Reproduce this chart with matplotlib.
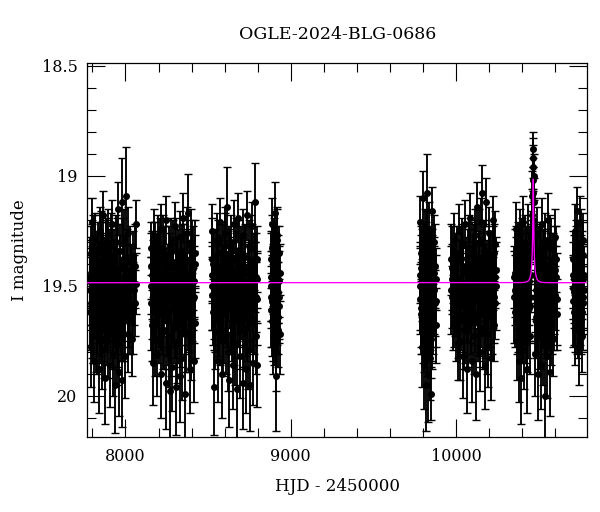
import numpy as np
import matplotlib
matplotlib.use("Agg")
import matplotlib.pyplot as plt
from matplotlib.ticker import MultipleLocator

# ---------------- data (HJD-2450000, I mag, error) ----------------
SEASON_1 = [
    (7783, 19.46, 0.13), (7786, 19.62, 0.15), (7790, 19.35, 0.12), (7794, 19.78, 0.18),
    (7797, 19.21, 0.11), (7801, 19.55, 0.14), (7805, 19.69, 0.16), (7808, 19.40, 0.13),
    (7812, 19.84, 0.19), (7816, 19.29, 0.12), (7820, 19.58, 0.15), (7824, 19.47, 0.13),
    (7828, 19.73, 0.17), (7832, 19.33, 0.12), (7836, 19.61, 0.15), (7840, 19.88, 0.20),
    (7844, 19.25, 0.11), (7848, 19.52, 0.14), (7852, 19.66, 0.16), (7856, 19.38, 0.12),
    (7860, 19.79, 0.18), (7864, 19.18, 0.11), (7868, 19.57, 0.14), (7872, 19.44, 0.13),
    (7876, 19.92, 0.21), (7880, 19.31, 0.12), (7884, 19.64, 0.16), (7888, 19.50, 0.14),
    (7892, 19.75, 0.17), (7896, 19.27, 0.12), (7900, 19.59, 0.15), (7904, 19.86, 0.19),
    (7908, 19.42, 0.13), (7912, 19.70, 0.16), (7916, 19.22, 0.11), (7920, 19.54, 0.14),
    (7924, 19.81, 0.19), (7928, 19.36, 0.12), (7932, 19.63, 0.15), (7936, 19.95, 0.22),
    (7940, 19.30, 0.12), (7944, 19.56, 0.14), (7948, 19.77, 0.18), (7952, 19.15, 0.12),
    (7957, 19.48, 0.13), (7962, 19.89, 0.20), (7967, 19.34, 0.12), (7972, 19.68, 0.16),
    (7977, 19.93, 0.21), (7982, 19.12, 0.20), (7987, 19.60, 0.15), (7992, 19.40, 0.13),
    (7997, 19.82, 0.19), (8003, 19.09, 0.22), (8008, 19.53, 0.14), (8013, 19.72, 0.17),
    (8018, 19.26, 0.12), (8025, 19.65, 0.16), (8032, 19.45, 0.13), (8040, 19.74, 0.17),
    (8048, 19.37, 0.12), (8055, 19.58, 0.15), (8061, 19.22, 0.11), (8062, 19.49, 0.14),
    (7785, 19.52, 0.16), (7792, 19.44, 0.15), (7799, 19.66, 0.17), (7806, 19.33, 0.15),
    (7814, 19.58, 0.16), (7822, 19.71, 0.18), (7830, 19.40, 0.15), (7838, 19.55, 0.16),
    (7846, 19.68, 0.17), (7854, 19.31, 0.15), (7862, 19.50, 0.16), (7870, 19.74, 0.18),
    (7878, 19.43, 0.15), (7886, 19.36, 0.15), (7894, 19.62, 0.17), (7902, 19.49, 0.16),
    (7910, 19.57, 0.16), (7918, 19.38, 0.15), (7926, 19.70, 0.18), (7934, 19.46, 0.16),
    (7942, 19.64, 0.17), (7950, 19.34, 0.15), (7959, 19.59, 0.16), (7969, 19.42, 0.15),
    (7979, 19.67, 0.17), (7989, 19.30, 0.15), (7999, 19.55, 0.16), (8010, 19.39, 0.15),
    (8022, 19.61, 0.17), (8036, 19.47, 0.16), (8051, 19.52, 0.16),
    (7784, 19.48, 0.20), (7789, 19.58, 0.21), (7796, 19.41, 0.19), (7803, 19.63, 0.22),
    (7810, 19.50, 0.20), (7818, 19.37, 0.19), (7826, 19.60, 0.21), (7834, 19.45, 0.20),
    (7842, 19.55, 0.21), (7850, 19.40, 0.19), (7858, 19.62, 0.22), (7866, 19.47, 0.20),
    (7874, 19.57, 0.21), (7882, 19.39, 0.19), (7890, 19.64, 0.22), (7898, 19.44, 0.20),
    (7906, 19.53, 0.21), (7914, 19.36, 0.19), (7922, 19.61, 0.22), (7930, 19.49, 0.20),
    (7938, 19.56, 0.21), (7946, 19.42, 0.20), (7955, 19.65, 0.22), (7964, 19.51, 0.20),
    (7974, 19.60, 0.21), (7984, 19.38, 0.19), (7994, 19.62, 0.22), (8005, 19.47, 0.20),
    (8016, 19.57, 0.21), (8029, 19.43, 0.20), (8044, 19.60, 0.21), (8058, 19.41, 0.19),
]
SEASON_2 = [
    (8153, 19.50, 0.13), (8157, 19.33, 0.12), (8161, 19.68, 0.16), (8164, 19.85, 0.19),
    (8168, 19.42, 0.13), (8172, 19.27, 0.12), (8176, 19.59, 0.15), (8180, 19.74, 0.17),
    (8184, 19.38, 0.12), (8188, 19.55, 0.14), (8193, 19.81, 0.19), (8198, 19.30, 0.12),
    (8203, 19.63, 0.15), (8208, 19.46, 0.13), (8213, 19.90, 0.20), (8218, 19.24, 0.11),
    (8223, 19.57, 0.14), (8228, 19.71, 0.17), (8233, 19.35, 0.12), (8238, 19.52, 0.14),
    (8243, 19.94, 0.21), (8248, 19.20, 0.11), (8253, 19.66, 0.16), (8258, 19.44, 0.13),
    (8263, 19.78, 0.18), (8268, 19.98, 0.22), (8273, 19.31, 0.12), (8278, 19.60, 0.15),
    (8283, 19.87, 0.20), (8288, 19.41, 0.13), (8293, 19.69, 0.16), (8298, 19.23, 0.11),
    (8303, 19.96, 0.22), (8308, 19.53, 0.14), (8313, 19.76, 0.18), (8318, 19.36, 0.12),
    (8323, 19.62, 0.15), (8328, 19.91, 0.21), (8333, 19.28, 0.12), (8338, 19.48, 0.13),
    (8343, 19.83, 0.19), (8348, 19.19, 0.11), (8353, 19.58, 0.15), (8358, 19.99, 0.22),
    (8363, 19.39, 0.13), (8368, 19.72, 0.17), (8373, 19.26, 0.12), (8378, 19.17, 0.18),
    (8383, 19.64, 0.16), (8388, 19.88, 0.20), (8393, 19.45, 0.13), (8398, 19.75, 0.18),
    (8403, 19.32, 0.12), (8408, 19.56, 0.14), (8413, 19.84, 0.19), (8418, 19.40, 0.13),
    (8422, 19.67, 0.16),
    (8155, 19.41, 0.15), (8163, 19.58, 0.16), (8170, 19.47, 0.16), (8178, 19.36, 0.15),
    (8186, 19.66, 0.17), (8195, 19.52, 0.16), (8205, 19.40, 0.15), (8215, 19.62, 0.17),
    (8225, 19.33, 0.15), (8235, 19.70, 0.18), (8245, 19.49, 0.16), (8255, 19.56, 0.16),
    (8265, 19.38, 0.15), (8275, 19.73, 0.18), (8285, 19.45, 0.16), (8295, 19.61, 0.17),
    (8305, 19.34, 0.15), (8315, 19.68, 0.17), (8325, 19.51, 0.16), (8335, 19.42, 0.15),
    (8345, 19.64, 0.17), (8355, 19.37, 0.15), (8365, 19.55, 0.16), (8375, 19.46, 0.16),
    (8385, 19.71, 0.18), (8395, 19.30, 0.15), (8405, 19.59, 0.16), (8415, 19.48, 0.16),
    (8420, 19.35, 0.15),
    (8154, 19.58, 0.21), (8159, 19.45, 0.20), (8166, 19.62, 0.22), (8174, 19.40, 0.19),
    (8182, 19.55, 0.21), (8190, 19.47, 0.20), (8200, 19.63, 0.22), (8210, 19.38, 0.19),
    (8220, 19.52, 0.20), (8230, 19.60, 0.21), (8240, 19.43, 0.20), (8250, 19.57, 0.21),
    (8260, 19.64, 0.22), (8270, 19.46, 0.20), (8280, 19.54, 0.21), (8290, 19.39, 0.19),
    (8300, 19.61, 0.22), (8310, 19.48, 0.20), (8320, 19.56, 0.21), (8330, 19.65, 0.22),
    (8340, 19.41, 0.19), (8350, 19.53, 0.20), (8360, 19.60, 0.21), (8370, 19.44, 0.20),
    (8380, 19.58, 0.21), (8390, 19.50, 0.20), (8400, 19.62, 0.22), (8410, 19.42, 0.19),
    (8417, 19.55, 0.21),
]
SEASON_3 = [
    (8521, 19.45, 0.13), (8524, 19.25, 0.12), (8528, 19.62, 0.15), (8534, 19.96, 0.22),
    (8538, 19.37, 0.12), (8543, 19.71, 0.17), (8548, 19.52, 0.14), (8553, 19.29, 0.12),
    (8558, 19.84, 0.19), (8563, 19.43, 0.13), (8568, 19.66, 0.16), (8573, 19.21, 0.11),
    (8578, 19.57, 0.14), (8583, 19.90, 0.20), (8588, 19.34, 0.12), (8593, 19.74, 0.17),
    (8598, 19.48, 0.13), (8603, 19.26, 0.12), (8608, 19.61, 0.15), (8614, 19.14, 0.18),
    (8619, 19.80, 0.18), (8624, 19.41, 0.13), (8629, 19.93, 0.21), (8634, 19.55, 0.14),
    (8639, 19.30, 0.12), (8644, 19.68, 0.16), (8649, 19.86, 0.20), (8654, 19.22, 0.11),
    (8659, 19.50, 0.14), (8664, 19.77, 0.18), (8669, 19.38, 0.12), (8674, 19.97, 0.22),
    (8679, 19.63, 0.15), (8684, 19.19, 0.11), (8689, 19.46, 0.13), (8694, 19.82, 0.19),
    (8699, 19.35, 0.12), (8704, 19.59, 0.15), (8709, 19.94, 0.21), (8714, 19.27, 0.12),
    (8719, 19.70, 0.17), (8724, 19.44, 0.13), (8729, 19.88, 0.20), (8734, 19.18, 0.11),
    (8739, 19.56, 0.14), (8744, 19.79, 0.18), (8749, 19.32, 0.12), (8754, 19.95, 0.21),
    (8759, 19.64, 0.16), (8764, 19.23, 0.11), (8769, 19.51, 0.14), (8774, 19.85, 0.19),
    (8779, 19.39, 0.13), (8785, 19.12, 0.18), (8790, 19.73, 0.17), (8795, 19.86, 0.19),
    (8799, 19.47, 0.13),
    (8523, 19.54, 0.16), (8531, 19.40, 0.15), (8541, 19.63, 0.17), (8551, 19.47, 0.16),
    (8561, 19.35, 0.15), (8571, 19.69, 0.17), (8581, 19.44, 0.16), (8591, 19.58, 0.16),
    (8601, 19.32, 0.15), (8611, 19.72, 0.18), (8621, 19.50, 0.16), (8631, 19.39, 0.15),
    (8641, 19.61, 0.17), (8651, 19.45, 0.16), (8661, 19.66, 0.17), (8671, 19.34, 0.15),
    (8681, 19.56, 0.16), (8691, 19.70, 0.18), (8701, 19.42, 0.15), (8711, 19.53, 0.16),
    (8721, 19.37, 0.15), (8731, 19.65, 0.17), (8741, 19.48, 0.16), (8751, 19.59, 0.16),
    (8761, 19.33, 0.15), (8771, 19.67, 0.17), (8781, 19.46, 0.16), (8792, 19.55, 0.16),
    (8797, 19.38, 0.15),
    (8522, 19.50, 0.20), (8526, 19.38, 0.19), (8536, 19.58, 0.21), (8546, 19.44, 0.20),
    (8556, 19.62, 0.22), (8566, 19.47, 0.20), (8576, 19.55, 0.21), (8586, 19.40, 0.19),
    (8596, 19.63, 0.22), (8606, 19.49, 0.20), (8616, 19.57, 0.21), (8626, 19.42, 0.19),
    (8636, 19.60, 0.21), (8646, 19.51, 0.20), (8656, 19.64, 0.22), (8666, 19.45, 0.20),
    (8676, 19.54, 0.21), (8686, 19.39, 0.19), (8696, 19.61, 0.22), (8706, 19.48, 0.20),
    (8716, 19.56, 0.21), (8726, 19.43, 0.20), (8736, 19.62, 0.22), (8746, 19.50, 0.20),
    (8756, 19.58, 0.21), (8766, 19.41, 0.19), (8776, 19.60, 0.21), (8787, 19.46, 0.20),
    (8796, 19.56, 0.21),
]
SEASON_4 = [
    (8878, 19.38, 0.13), (8881, 19.55, 0.14), (8884, 19.22, 0.12), (8887, 19.66, 0.16),
    (8890, 19.45, 0.13), (8893, 19.73, 0.17), (8896, 19.31, 0.12), (8899, 19.58, 0.15),
    (8902, 19.17, 0.14), (8905, 19.49, 0.13), (8908, 19.80, 0.18), (8911, 19.91, 0.25),
    (8914, 19.40, 0.13), (8917, 19.62, 0.15), (8920, 19.27, 0.12), (8923, 19.53, 0.14),
    (8926, 19.70, 0.17), (8929, 19.35, 0.12), (8932, 19.59, 0.15), (8935, 19.44, 0.13),
    (8879, 19.50, 0.16), (8883, 19.61, 0.17), (8888, 19.33, 0.15), (8892, 19.47, 0.16),
    (8897, 19.69, 0.17), (8904, 19.40, 0.15), (8910, 19.56, 0.16), (8916, 19.29, 0.15),
    (8922, 19.64, 0.17), (8930, 19.48, 0.16), (8934, 19.72, 0.18),
    (8880, 19.46, 0.20), (8886, 19.57, 0.21), (8891, 19.40, 0.19), (8895, 19.62, 0.22),
    (8900, 19.50, 0.20), (8906, 19.58, 0.21), (8913, 19.43, 0.20), (8919, 19.60, 0.21),
    (8925, 19.47, 0.20), (8931, 19.55, 0.21),
]
SEASON_5 = [
    (9781, 19.45, 0.13), (9784, 19.21, 0.12), (9787, 19.63, 0.15), (9790, 19.35, 0.12),
    (9793, 19.78, 0.18), (9796, 19.52, 0.14), (9799, 19.10, 0.12), (9802, 19.69, 0.16),
    (9805, 19.41, 0.13), (9808, 19.86, 0.20), (9811, 19.27, 0.12), (9814, 19.57, 0.14),
    (9817, 19.95, 0.21), (9820, 19.33, 0.12), (9823, 19.08, 0.18), (9826, 19.74, 0.17),
    (9829, 19.48, 0.13), (9832, 19.90, 0.22), (9835, 19.24, 0.12), (9838, 19.60, 0.15),
    (9841, 19.83, 0.19), (9844, 19.38, 0.13), (9847, 19.99, 0.12), (9850, 19.55, 0.14),
    (9853, 19.16, 0.11), (9856, 19.71, 0.17), (9859, 19.43, 0.13), (9863, 19.65, 0.16),
    (9868, 19.30, 0.12), (9874, 19.58, 0.15), (9879, 19.47, 0.14),
    (9782, 19.56, 0.16), (9788, 19.42, 0.15), (9794, 19.64, 0.17), (9800, 19.36, 0.15),
    (9806, 19.71, 0.18), (9812, 19.49, 0.16), (9818, 19.58, 0.16), (9824, 19.31, 0.15),
    (9830, 19.66, 0.17), (9836, 19.45, 0.16), (9842, 19.53, 0.16), (9848, 19.74, 0.18),
    (9854, 19.39, 0.15), (9861, 19.61, 0.17), (9870, 19.44, 0.16), (9877, 19.68, 0.17),
    (9780, 19.50, 0.20), (9786, 19.60, 0.21), (9792, 19.44, 0.20), (9798, 19.57, 0.21),
    (9804, 19.40, 0.19), (9810, 19.63, 0.22), (9816, 19.47, 0.20), (9822, 19.55, 0.21),
    (9828, 19.42, 0.19), (9834, 19.61, 0.22), (9840, 19.49, 0.20), (9846, 19.58, 0.21),
    (9852, 19.45, 0.20), (9858, 19.62, 0.22), (9866, 19.52, 0.20), (9872, 19.41, 0.19),
    (9878, 19.57, 0.21),
]
SEASON_6 = [
    (9971, 19.38, 0.16), (9976, 19.55, 0.14), (9981, 19.45, 0.13), (9988, 19.29, 0.12),
    (9994, 19.58, 0.15), (9999, 19.68, 0.16), (10004, 19.35, 0.12), (10010, 19.76, 0.17),
    (10015, 19.48, 0.14), (10020, 19.25, 0.12), (10026, 19.75, 0.18), (10030, 19.52, 0.14),
    (10035, 19.31, 0.12), (10040, 19.82, 0.19), (10045, 19.43, 0.13), (10050, 19.64, 0.16),
    (10055, 19.22, 0.11), (10060, 19.57, 0.14), (10065, 19.88, 0.20), (10070, 19.36, 0.12),
    (10075, 19.70, 0.17), (10080, 19.47, 0.13), (10085, 19.19, 0.11), (10090, 19.61, 0.15),
    (10095, 19.84, 0.19), (10100, 19.33, 0.12), (10105, 19.54, 0.14), (10110, 19.73, 0.17),
    (10115, 19.27, 0.12), (10120, 19.90, 0.21), (10125, 19.44, 0.13), (10130, 19.14, 0.11),
    (10135, 19.66, 0.16), (10140, 19.39, 0.13), (10145, 19.80, 0.18), (10150, 19.21, 0.11),
    (10155, 19.50, 0.14), (10160, 19.08, 0.13), (10165, 19.71, 0.17), (10170, 19.34, 0.12),
    (10175, 19.86, 0.20), (10180, 19.12, 0.11), (10185, 19.59, 0.15), (10190, 19.42, 0.13),
    (10195, 19.78, 0.18), (10200, 19.26, 0.12), (10205, 19.63, 0.15), (10210, 19.83, 0.19),
    (10215, 19.37, 0.12), (10220, 19.55, 0.14), (10225, 19.20, 0.11), (10229, 19.35, 0.13),
    (10233, 19.68, 0.16), (10237, 19.46, 0.14), (10241, 19.43, 0.15),
    (9974, 19.47, 0.16), (9985, 19.62, 0.17), (9997, 19.41, 0.15), (10007, 19.56, 0.16),
    (10018, 19.66, 0.17), (10028, 19.38, 0.15), (10038, 19.51, 0.16), (10048, 19.70, 0.18),
    (10058, 19.44, 0.16), (10068, 19.59, 0.16), (10078, 19.33, 0.15), (10088, 19.67, 0.17),
    (10098, 19.48, 0.16), (10108, 19.37, 0.15), (10118, 19.63, 0.17), (10128, 19.52, 0.16),
    (10138, 19.30, 0.15), (10148, 19.69, 0.18), (10158, 19.45, 0.16), (10168, 19.57, 0.16),
    (10178, 19.35, 0.15), (10188, 19.72, 0.18), (10198, 19.49, 0.16), (10208, 19.40, 0.15),
    (10218, 19.64, 0.17), (10227, 19.53, 0.16), (10235, 19.58, 0.16), (10239, 19.31, 0.15),
    (9973, 19.52, 0.20), (9979, 19.42, 0.19), (9991, 19.57, 0.21), (10002, 19.46, 0.20),
    (10012, 19.61, 0.22), (10023, 19.49, 0.20), (10033, 19.58, 0.21), (10043, 19.41, 0.19),
    (10053, 19.63, 0.22), (10063, 19.50, 0.20), (10073, 19.55, 0.21), (10083, 19.44, 0.20),
    (10093, 19.60, 0.21), (10103, 19.47, 0.20), (10113, 19.56, 0.21), (10123, 19.39, 0.19),
    (10133, 19.62, 0.22), (10143, 19.48, 0.20), (10153, 19.57, 0.21), (10163, 19.43, 0.20),
    (10173, 19.61, 0.22), (10183, 19.51, 0.20), (10193, 19.58, 0.21), (10203, 19.45, 0.20),
    (10213, 19.60, 0.21), (10223, 19.42, 0.19), (10231, 19.55, 0.21), (10240, 19.50, 0.20),
]
SEASON_7 = [
    (10352, 19.46, 0.14), (10358, 19.62, 0.16), (10361, 19.41, 0.13), (10364, 19.24, 0.12),
    (10368, 19.55, 0.15), (10372, 19.75, 0.18), (10376, 19.33, 0.12), (10380, 19.84, 0.19),
    (10384, 19.50, 0.14), (10388, 19.27, 0.12), (10392, 19.66, 0.16), (10396, 19.92, 0.21),
    (10400, 19.38, 0.13), (10404, 19.58, 0.15), (10408, 19.21, 0.12), (10412, 19.79, 0.18),
    (10416, 19.45, 0.13), (10420, 19.30, 0.12), (10424, 19.69, 0.16), (10428, 19.88, 0.20),
    (10432, 19.42, 0.13), (10436, 19.25, 0.12), (10440, 19.60, 0.15), (10444, 19.36, 0.13),
    (10448, 19.73, 0.17), (10452, 19.28, 0.12), (10456, 19.45, 0.13), (10459, 19.18, 0.12),
    (10462, 19.09, 0.11), (10464, 18.96, 0.10), (10466, 18.88, 0.08), (10467, 18.92, 0.09),
    (10468, 19.02, 0.10), (10470, 19.00, 0.10), (10472, 19.12, 0.11), (10474, 19.23, 0.12),
    (10477, 19.35, 0.13), (10480, 19.81, 0.19), (10483, 19.52, 0.14), (10486, 19.64, 0.16),
    (10490, 19.26, 0.12), (10494, 19.90, 0.21), (10498, 19.48, 0.14), (10502, 19.71, 0.17),
    (10506, 19.33, 0.12), (10510, 19.57, 0.15), (10514, 19.86, 0.20), (10518, 19.22, 0.12),
    (10522, 19.44, 0.13), (10526, 19.77, 0.18), (10530, 19.37, 0.13), (10534, 19.62, 0.15),
    (10538, 20.00, 0.22), (10542, 19.29, 0.12), (10546, 19.53, 0.14), (10550, 19.82, 0.19),
    (10555, 19.20, 0.12), (10560, 19.67, 0.16), (10565, 19.43, 0.13), (10570, 19.89, 0.20),
    (10575, 19.31, 0.12), (10580, 19.58, 0.15), (10585, 19.74, 0.17), (10590, 19.39, 0.13),
    (10595, 19.63, 0.16), (10602, 19.28, 0.13), (10606, 19.46, 0.14), (10610, 19.63, 0.16),
    (10355, 19.52, 0.16), (10366, 19.38, 0.15), (10374, 19.63, 0.17), (10382, 19.45, 0.16),
    (10390, 19.57, 0.16), (10398, 19.34, 0.15), (10406, 19.68, 0.17), (10414, 19.49, 0.16),
    (10422, 19.41, 0.15), (10430, 19.71, 0.18), (10438, 19.46, 0.16), (10446, 19.59, 0.16),
    (10454, 19.37, 0.15), (10465, 19.20, 0.13), (10469, 19.08, 0.12), (10476, 19.55, 0.16),
    (10484, 19.66, 0.17), (10492, 19.43, 0.15), (10500, 19.58, 0.16), (10508, 19.36, 0.15),
    (10516, 19.70, 0.18), (10524, 19.50, 0.16), (10532, 19.40, 0.15), (10540, 19.64, 0.17),
    (10548, 19.47, 0.16), (10558, 19.56, 0.16), (10568, 19.33, 0.15), (10578, 19.69, 0.17),
    (10588, 19.45, 0.16), (10598, 19.54, 0.16), (10608, 19.38, 0.15),
    (10353, 19.55, 0.21), (10360, 19.44, 0.20), (10370, 19.60, 0.21), (10378, 19.47, 0.20),
    (10386, 19.58, 0.21), (10394, 19.41, 0.19), (10402, 19.62, 0.22), (10410, 19.50, 0.20),
    (10418, 19.56, 0.21), (10426, 19.43, 0.20), (10434, 19.61, 0.22), (10442, 19.48, 0.20),
    (10450, 19.55, 0.21), (10479, 19.45, 0.20), (10488, 19.60, 0.21), (10496, 19.52, 0.20),
    (10504, 19.42, 0.19), (10512, 19.63, 0.22), (10520, 19.49, 0.20), (10528, 19.57, 0.21),
    (10536, 19.44, 0.20), (10544, 19.61, 0.22), (10552, 19.50, 0.20), (10562, 19.58, 0.21),
    (10572, 19.46, 0.20), (10582, 19.60, 0.21), (10592, 19.52, 0.20), (10600, 19.43, 0.20),
    (10609, 19.56, 0.21),
]
SEASON_8 = [
    (10706, 19.51, 0.14), (10710, 19.38, 0.13), (10714, 19.62, 0.15), (10718, 19.25, 0.12),
    (10722, 19.70, 0.16), (10726, 19.44, 0.13), (10730, 19.16, 0.11), (10734, 19.57, 0.14),
    (10738, 19.33, 0.12), (10742, 19.78, 0.17), (10746, 19.48, 0.13), (10750, 19.21, 0.12),
    (10754, 19.66, 0.15), (10758, 19.40, 0.13), (10762, 19.73, 0.16), (10766, 19.29, 0.12),
    (10770, 19.55, 0.14), (10774, 19.45, 0.13),
    (10708, 19.45, 0.15), (10716, 19.53, 0.16), (10724, 19.35, 0.15), (10732, 19.64, 0.17),
    (10740, 19.42, 0.15), (10748, 19.58, 0.16), (10756, 19.30, 0.15), (10764, 19.62, 0.17),
    (10768, 19.47, 0.16), (10772, 19.36, 0.15),
    (10707, 19.57, 0.21), (10712, 19.47, 0.20), (10720, 19.59, 0.21), (10728, 19.42, 0.19),
    (10736, 19.61, 0.22), (10744, 19.50, 0.20), (10752, 19.56, 0.21), (10760, 19.45, 0.20),
    (10767, 19.58, 0.21), (10773, 19.52, 0.20),
]

# point-lens model parameters (magenta curve)
BASELINE_MAG = 19.486
T0 = 10468.0
TE = 20.0
U0 = 0.10
FS = 0.06

TITLE = "OGLE-2024-BLG-0686"
XLABEL = "HJD - 2450000"
YLABEL = "I magnitude"
X_TICKS = [8000, 9000, 10000]
X_TICK_LABELS = ["8000", "9000", "10000"]
Y_TICKS = [18.5, 19.0, 19.5, 20.0]
Y_TICK_LABELS = ["18.5", "19", "19.5", "20"]
X_RANGE = (7769, 10795)
Y_RANGE = (20.186, 18.486)

# ---------------- plot ----------------
plt.rcParams["font.family"] = ["DejaVu Serif"]

fig = plt.figure(figsize=(6.0, 5.12), dpi=100)
ax = fig.add_axes([87.3 / 600, 1 - 436.7 / 512, 500.0 / 600, 374.0 / 512])

data = np.array(SEASON_1 + SEASON_2 + SEASON_3 + SEASON_4 +
                SEASON_5 + SEASON_6 + SEASON_7 + SEASON_8, dtype=float)
t_obs, m_obs, e_obs = data[:, 0], data[:, 1], data[:, 2]

ax.errorbar(t_obs, m_obs, yerr=e_obs, fmt="o", ms=4.0, mfc="black", mec="black",
            ecolor="0.0", elinewidth=1.35, capsize=2.6, capthick=1.0, zorder=2)

t_mod = np.linspace(X_RANGE[0], X_RANGE[1], 30000)
u = np.sqrt(U0 ** 2 + ((t_mod - T0) / TE) ** 2)
amp = (u ** 2 + 2) / (u * np.sqrt(u ** 2 + 4))
m_mod = BASELINE_MAG - 2.5 * np.log10(FS * amp + 1 - FS)
ax.plot(t_mod, m_mod, color="#ff00ff", lw=0.95, zorder=3)

ax.set_xlim(*X_RANGE)
ax.set_ylim(*Y_RANGE)
ax.set_xticks(X_TICKS)
ax.set_xticklabels(X_TICK_LABELS)
ax.set_yticks(Y_TICKS)
ax.set_yticklabels(Y_TICK_LABELS)
ax.xaxis.set_minor_locator(MultipleLocator(200))
ax.yaxis.set_minor_locator(MultipleLocator(0.1))
ax.tick_params(which="both", direction="in", top=True, right=True, width=0.8, color="black")
ax.tick_params(which="major", length=13.3, labelsize=11.5)
ax.tick_params(axis="x", which="major", pad=8)
ax.tick_params(axis="y", which="major", pad=7)
ax.tick_params(which="minor", length=6.7)
for sp in ax.spines.values():
    sp.set_linewidth(0.9)

fig.text(337.3 / 600, 1 - 38.7 / 512, TITLE, ha="center", va="baseline", fontsize=12.5)
fig.text(337.3 / 600, 1 - 491 / 512, XLABEL, ha="center", va="baseline", fontsize=12)
fig.text(20 / 600, 1 - 249.7 / 512, YLABEL, ha="center", va="center", rotation=90, fontsize=12)

fig.savefig("out.png", dpi=100)
